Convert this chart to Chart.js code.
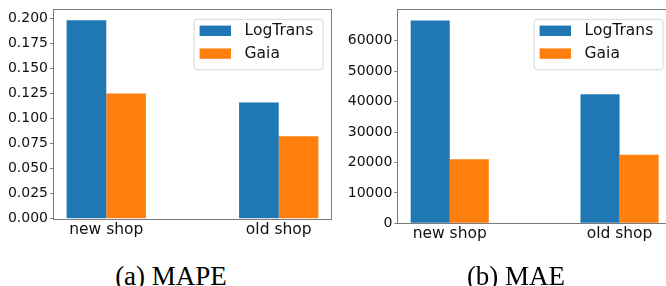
<!DOCTYPE html>
<html><head><meta charset="utf-8">
<script src="https://cdn.jsdelivr.net/npm/chart.js@4.4.1/dist/chart.umd.min.js"></script>
<style>
html,body{margin:0;padding:0;width:666px;height:286px;overflow:hidden;background:#fff;}
#wrap{position:relative;width:666px;height:286px;overflow:hidden;}
canvas{position:absolute;}
.cap{position:absolute;font-family:'Liberation Serif','Times New Roman',serif;font-size:27px;line-height:27px;color:#000;white-space:nowrap;transform:translateX(-50%);}
</style></head><body>
<div id="wrap">
<canvas id="c1" width="340" height="250" style="left:0;top:0;width:340px;height:250px"></canvas>
<canvas id="c2" width="336" height="250" style="left:336px;top:0;width:336px;height:250px"></canvas>
<div class="cap" style="left:171px;top:263px">(a) MAPE</div>
<div class="cap" style="left:516px;top:263px">(b) MAE</div>
</div>
<script>
const categories = ['new shop', 'old shop'];
const seriesNames = ['LogTrans', 'Gaia'];
const mapeLogTrans = [0.1977, 0.1157];
const mapeGaia = [0.1247, 0.0821];
const maeLogTrans = [66650, 42440];
const maeGaia = [21090, 22510];
const mapeTicks = [0, 0.025, 0.05, 0.075, 0.1, 0.125, 0.15, 0.175, 0.2];
const maeTicks = [0, 10000, 20000, 30000, 40000, 50000, 60000];
const colors = ['#1f77b4', '#ff7f0e'];

const spineColor = '#7a7a7a';

const spinePlugin = {
  id: 'spines',
  afterDatasetsDraw(chart) {
    const a = chart.chartArea, ctx = chart.ctx;
    ctx.save();
    ctx.strokeStyle = spineColor;
    ctx.lineWidth = 1;
    const l = Math.round(a.left) - 0.5, t = Math.round(a.top) - 0.5;
    const r = Math.round(a.right) + 0.5, b = Math.round(a.bottom) + 0.5;
    ctx.strokeRect(l, t, r - l, b - t);
    ctx.restore();
  }
};

const legendPlugin = {
  id: 'boxLegend',
  afterDraw(chart) {
    const a = chart.chartArea, ctx = chart.ctx;
    const w = 129, h = 50.5;
    const x = a.right - 8.4 - w, y = a.top + 8.4;
    ctx.save();
    ctx.beginPath();
    ctx.roundRect(x + 0.5, y + 0.5, w, h, 3);
    ctx.fillStyle = 'rgba(255,255,255,0.8)';
    ctx.fill();
    ctx.strokeStyle = '#d6d6d6';
    ctx.lineWidth = 1;
    ctx.stroke();
    chart.data.datasets.forEach((ds, i) => {
      const cy = y + 12 + i * 22.8;
      ctx.fillStyle = ds.backgroundColor;
      ctx.fillRect(x + 6, cy - 5.2, 31.4, 10.4);
      ctx.fillStyle = '#111';
      ctx.font = '15.5px "DejaVu Sans"';
      ctx.textBaseline = 'middle';
      ctx.textAlign = 'left';
      ctx.fillText(ds.label, x + 51, cy + 0.5);
    });
    ctx.restore();
  }
};

function makeChart(id, logVals, gaiaVals, yTicks, fmt, pad, xH, yW) {
  const ymax = Math.max(...logVals, ...gaiaVals) * 1.05;
  return new Chart(document.getElementById(id), {
    type: 'bar',
    data: {
      datasets: [
        { label: seriesNames[0], data: categories.map((c, i) => ({ x: i, y: logVals[i] })), backgroundColor: colors[0] },
        { label: seriesNames[1], data: categories.map((c, i) => ({ x: i, y: gaiaVals[i] })), backgroundColor: colors[1] }
      ]
    },
    options: {
      responsive: false, animation: false, devicePixelRatio: 1,
      layout: { padding: pad },
      datasets: { bar: { categoryPercentage: 0.46, barPercentage: 1 } },
      plugins: { legend: { display: false }, tooltip: { enabled: false } },
      scales: {
        x: {
          type: 'linear', min: -0.303, max: 1.303, offset: false,
          afterBuildTicks: s => { s.ticks = categories.map((c, i) => ({ value: i })); },
          afterFit: s => { s.height = xH; },
          ticks: { callback: v => categories[v], font: { family: 'DejaVu Sans', size: 15.5 }, color: '#111', padding: 1.5, maxRotation: 0, autoSkip: false },
          grid: { drawOnChartArea: false, drawTicks: false },
          border: { display: false }
        },
        y: {
          min: 0, max: ymax,
          afterBuildTicks: s => { s.ticks = yTicks.map(v => ({ value: v })); },
          afterFit: s => { s.width = yW; },
          ticks: { callback: fmt, font: { family: 'DejaVu Sans', size: 14 }, color: '#111', padding: 2, autoSkip: false },
          grid: { drawOnChartArea: false, drawTicks: true, tickLength: 4, tickColor: spineColor },
          border: { display: false }
        }
      }
    },
    plugins: [spinePlugin, legendPlugin]
  });
}

makeChart('c1', mapeLogTrans, mapeGaia, mapeTicks, v => v.toFixed(3), { left: 0, top: 4, right: 9, bottom: 0 }, 31.3, 54);
makeChart('c2', maeLogTrans, maeGaia, maeTicks, v => String(v), { left: 0, top: 4.7, right: 1, bottom: 0 }, 26.7, 62.3);
</script>
</body></html>
